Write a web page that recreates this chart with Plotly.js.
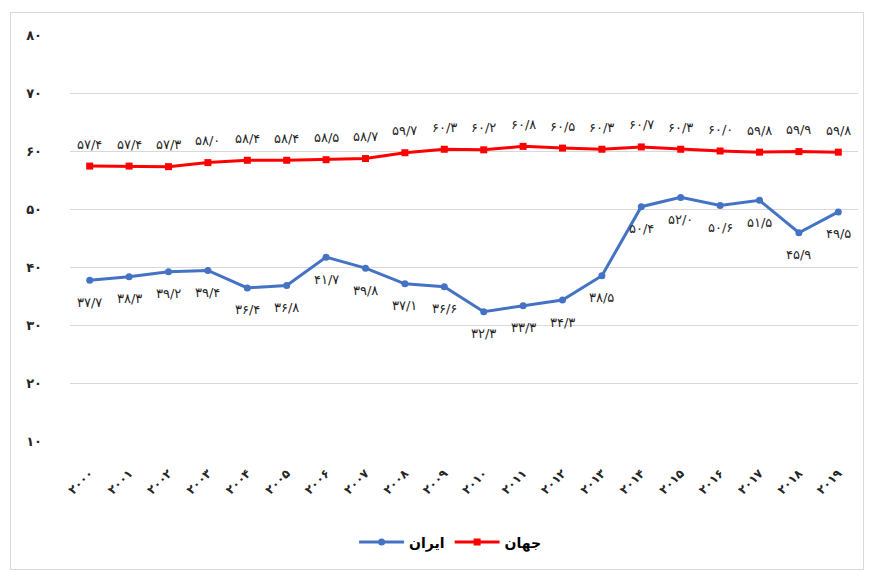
<!DOCTYPE html>
<html>
<head>
<meta charset="utf-8">
<script src="https://cdn.plot.ly/plotly-3.0.1.min.js"></script>
<style>
  html, body { margin: 0; padding: 0; background: #ffffff; }
  #wrap { position: relative; width: 871px; height: 571px; }
  #chart { position: absolute; left: 0; top: 0; width: 871px; height: 571px; }
  #frame { position: absolute; left: 10px; top: 12px; width: 852px; height: 556px; border: 1px solid #d9d9d9; pointer-events: none; }
</style>
</head>
<body>
<div id="wrap">
  <div id="chart"></div>
  <div id="frame"></div>
</div>
<script>
const years = [2000, 2001, 2002, 2003, 2004, 2005, 2006, 2007, 2008, 2009, 2010, 2011, 2012, 2013, 2014, 2015, 2016, 2017, 2018, 2019];
const iranValues = [37.7, 38.3, 39.2, 39.4, 36.4, 36.8, 41.7, 39.8, 37.1, 36.6, 32.3, 33.3, 34.3, 38.5, 50.4, 52.0, 50.6, 51.5, 45.9, 49.5];
const worldValues = [57.4, 57.4, 57.3, 58.0, 58.4, 58.4, 58.5, 58.7, 59.7, 60.3, 60.2, 60.8, 60.5, 60.3, 60.7, 60.3, 60.0, 59.8, 59.9, 59.8];
const yTicks = [10, 20, 30, 40, 50, 60, 70, 80];
const seriesNames = ['ایران', 'جهان'];

const faDigits = ['۰','۱','۲','۳','۴','۵','۶','۷','۸','۹'];
function toFa(s) { return String(s).replace(/[0-9]/g, d => faDigits[+d]); }
function fmt(v) { return toFa(v.toFixed(1)).replace('.', '/'); }

const xLabels = years.map(y => toFa(y));
const font = 'DejaVu Sans, Noto Sans, sans-serif';

const iran = {
  x: xLabels, y: iranValues, name: seriesNames[0],
  type: 'scatter', mode: 'lines+markers',
  line: { color: '#4472c4', width: 3 },
  marker: { color: '#4472c4', symbol: 'circle', size: 7 },
  cliponaxis: false
};
const world = {
  x: xLabels, y: worldValues, name: seriesNames[1],
  type: 'scatter', mode: 'lines+markers',
  line: { color: '#ff0000', width: 3 },
  marker: { color: '#ff0000', symbol: 'square', size: 7 },
  cliponaxis: false
};

const labelFont = { family: font, size: 13, color: '#262626' };
const annotations = [];
xLabels.forEach((xl, i) => {
  annotations.push({ x: xl, y: iranValues[i], xref: 'x', yref: 'y', text: fmt(iranValues[i]),
    showarrow: false, yshift: -22, font: labelFont });
  annotations.push({ x: xl, y: worldValues[i], xref: 'x', yref: 'y', text: fmt(worldValues[i]),
    showarrow: false, yshift: 22, font: labelFont });
});

const layout = {
  width: 871, height: 571,
  margin: { l: 70, r: 13, t: 35, b: 128 },
  paper_bgcolor: '#ffffff', plot_bgcolor: '#ffffff',
  font: { family: font, size: 12, color: '#262626' },
  showlegend: true,
  legend: {
    orientation: 'h', x: 0.483, xanchor: 'center', y: -0.25, yanchor: 'middle',
    itemwidth: 45,
    font: { family: font, size: 14, color: '#000000', weight: 'bold' }
  },
  annotations: annotations,
  xaxis: {
    type: 'category', tickangle: -45, range: [-0.5, years.length - 0.5],
    showgrid: false, showline: false, zeroline: false, ticks: '',
    ticklabelstandoff: 22,
    tickfont: { family: font, size: 12, color: '#262626', weight: 'bold' }
  },
  yaxis: {
    range: [10, 80], tickvals: yTicks, ticktext: yTicks.map(toFa),
    showgrid: true, gridcolor: '#d9d9d9', gridwidth: 1,
    showline: false, zeroline: false, ticks: '',
    ticklabelstandoff: 27,
    tickfont: { family: font, size: 13, color: '#262626', weight: 'bold' }
  }
};

Plotly.newPlot('chart', [iran, world], layout, { displayModeBar: false, staticPlot: true });
</script>
</body>
</html>
